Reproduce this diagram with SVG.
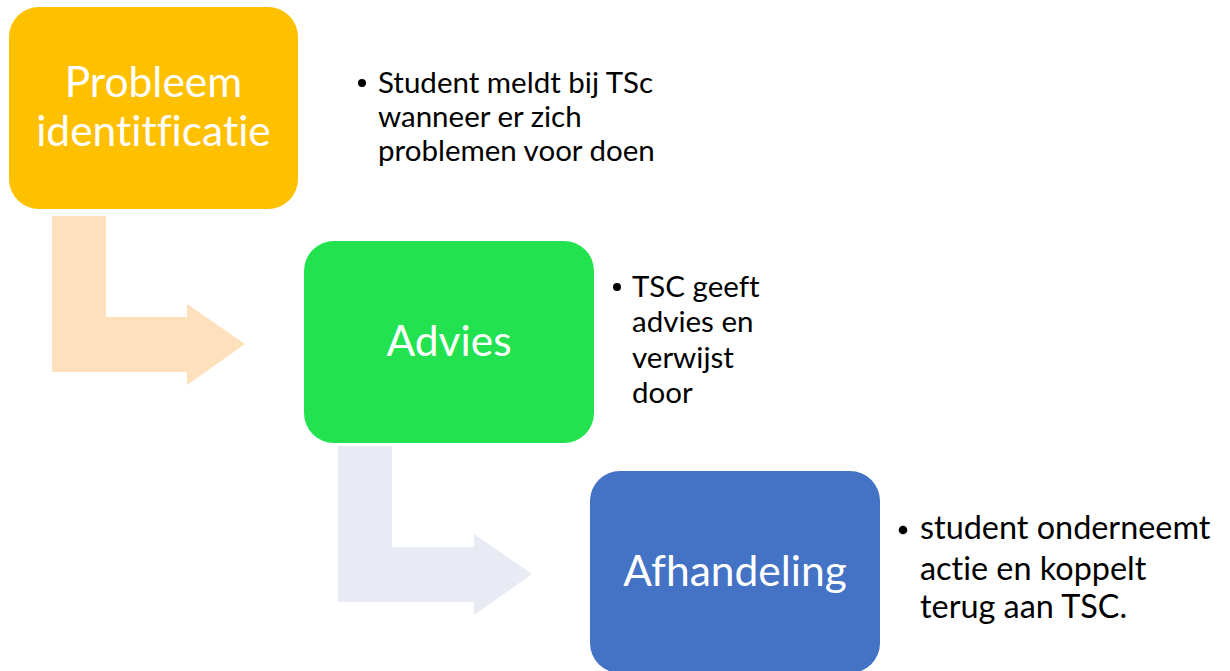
<svg xmlns="http://www.w3.org/2000/svg" width="1230" height="671" viewBox="0 0 1230 671">
<style>
text{font-variant-ligatures:none}
.box-label{font-family:Lato,"Liberation Sans",sans-serif;font-size:42.5px;fill:#ffffff;text-anchor:middle}
.bullet{font-family:Lato,"Liberation Sans",sans-serif;font-size:29.5px;fill:#000000}
.bullet3{font-family:Lato,"Liberation Sans",sans-serif;font-size:32.4px;fill:#000000}
</style>
<rect width="1230" height="671" fill="#ffffff"/>
<g id="connectors">
<polygon points="52,216 106,216 106,317 187,317 187,304 245,344 187,385 187,372 52,372" fill="#FEE0BC"/>
<polygon points="338,446 392,446 392,547 474,547 474,534 532,574 474,615 474,602 338,602" fill="#E8EAF4"/>
</g>
<g id="node-probleem">
<rect x="9" y="7" width="289" height="202" rx="30" ry="30" fill="#FFC000"/>
<text class="box-label" x="153.5" y="97">Probleem</text>
<text class="box-label" x="153.5" y="146">identitficatie</text>
</g>
<g id="node-advies">
<rect x="304" y="241" width="290" height="202" rx="30" ry="30" fill="#22E34F"/>
<text class="box-label" x="449" y="356">Advies</text>
</g>
<g id="node-afhandeling">
<rect x="590" y="471" width="290" height="202" rx="30" ry="30" fill="#4472C4"/>
<text class="box-label" x="735" y="586">Afhandeling</text>
</g>
<g id="text-probleem">
<circle cx="362" cy="83" r="4" fill="#000"/>
<text class="bullet" x="378" y="93">Student meldt bij TSc</text>
<text class="bullet" x="378" y="127">wanneer er zich</text>
<text class="bullet" x="378" y="161">problemen voor doen</text>
</g>
<g id="text-advies">
<circle cx="617" cy="287" r="4" fill="#000"/>
<text class="bullet" x="632" y="297">TSC geeft</text>
<text class="bullet" x="632" y="332">advies en</text>
<text class="bullet" x="632" y="368">verwijst</text>
<text class="bullet" x="632" y="403">door</text>
</g>
<g id="text-afhandeling">
<circle cx="903" cy="530" r="4.3" fill="#000"/>
<text class="bullet3" x="920" y="539">student onderneemt</text>
<text class="bullet3" x="920" y="580">actie en koppelt</text>
<text class="bullet3" x="920" y="618">terug aan TSC.</text>
</g>
</svg>
